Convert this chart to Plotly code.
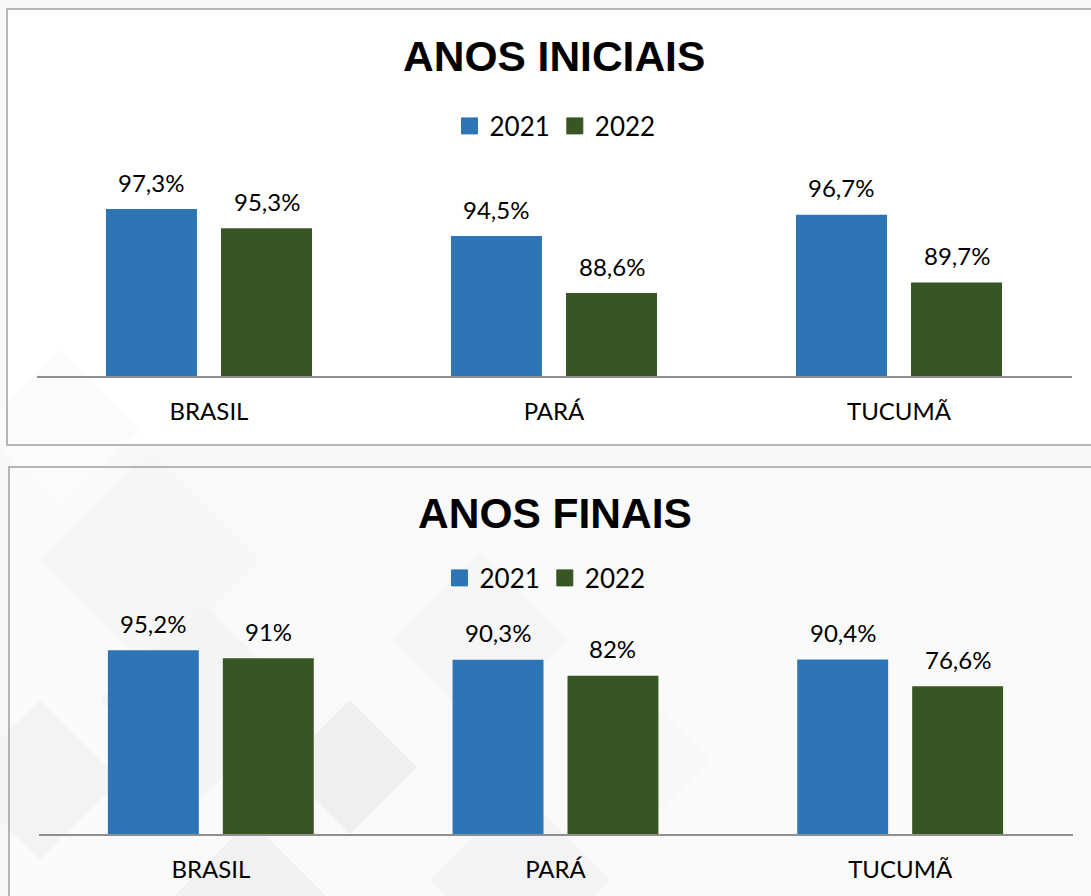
import plotly.graph_objects as go

# ---------------- data ----------------
categories = ["BRASIL", "PARÁ", "TUCUMÃ"]
years = ["2021", "2022"]
iniciais_2021 = [97.3, 94.5, 96.7]
iniciais_2022 = [95.3, 88.6, 89.7]
finais_2021 = [95.2, 90.3, 90.4]
finais_2022 = [91.0, 82.0, 76.6]
title_iniciais = "ANOS INICIAIS"
title_finais = "ANOS FINAIS"
range_iniciais = [80, 100]
range_finais = [0, 100]

colors = ["#2E75B6", "#375623"]
W, H = 1091, 896
BARGAP = 0.333
BARGROUPGAP = 0.209
LABEL_FONT = dict(family="Lato", size=24, color="#000000")


def px(x):
    return x / W


def py(y):
    return 1 - y / H


def fmt(v):
    s = f"{v:.1f}".rstrip("0").rstrip(".")
    return s.replace(".", ",") + "%"


panels = [
    dict(series=[iniciais_2021, iniciais_2022], xa="x", ya="y", legend="legend"),
    dict(series=[finais_2021, finais_2022], xa="x2", ya="y2", legend="legend2"),
]

fig = go.Figure()
annotations = []
for p in panels:
    for j, (yr, vals) in enumerate(zip(years, p["series"])):
        fig.add_trace(go.Bar(
            x=categories, y=vals, name=yr, xaxis=p["xa"], yaxis=p["ya"],
            marker=dict(color=colors[j], line=dict(width=0)),
            showlegend=False, hoverinfo="skip",
        ))
        # legend entry
        fig.add_trace(go.Scatter(
            x=[None], y=[None], mode="markers", name=yr,
            xaxis=p["xa"], yaxis=p["ya"], legend=p["legend"],
            marker=dict(symbol="square", size=18, color=colors[j],
                        line=dict(width=1, color=colors[j])),
            showlegend=True,
        ))
        slot = (1 - BARGAP) / len(years)
        for i, v in enumerate(vals):
            annotations.append(dict(
                x=i + (j - (len(years) - 1) / 2) * slot, y=v,
                xref=p["xa"], yref=p["ya"], text=fmt(v), showarrow=False,
                yanchor="middle", yshift=27, font=LABEL_FONT,
            ))

TITLE_FONT = dict(family="Liberation Sans", size=42.5, color="#000000", weight="bold")
annotations.append(dict(x=px(554), y=py(56), xref="paper", yref="paper",
                        text=title_iniciais, showarrow=False, yanchor="middle",
                        font=TITLE_FONT))
annotations.append(dict(x=px(555), y=py(513), xref="paper", yref="paper",
                        text=title_finais, showarrow=False, yanchor="middle",
                        font=TITLE_FONT))

# ---------------- decorative background ----------------
shapes = []
shapes.append(dict(type="rect", xref="paper", yref="paper", layer="below",
                   x0=px(7), x1=px(1100), y0=py(445), y1=py(9),
                   fillcolor="#ffffff", line=dict(width=0)))
shapes.append(dict(type="rect", xref="paper", yref="paper", layer="below",
                   x0=px(9), x1=px(1100), y0=py(900), y1=py(467),
                   fillcolor="#fafafa", line=dict(width=0)))
diamonds = [
    (60, 430, 80, "#fbfbfb"),
    (150, 560, 110, "#f6f6f6"),
    (200, 700, 100, "#f4f4f4"),
    (350, 767, 67, "#efefef"),
    (480, 640, 90, "#f6f6f6"),
    (40, 780, 80, "#f4f4f4"),
    (250, 900, 80, "#f1f1f1"),
    (520, 880, 90, "#f3f3f3"),
    (640, 760, 70, "#f7f7f7"),
]
for cx, cy, r, c in diamonds:
    path = (f"M {px(cx - r)} {py(cy)} L {px(cx)} {py(cy - r)} "
            f"L {px(cx + r)} {py(cy)} L {px(cx)} {py(cy + r)} Z")
    shapes.append(dict(type="path", xref="paper", yref="paper", layer="below",
                       path=path, fillcolor=c, line=dict(width=0)))
shapes.append(dict(type="rect", xref="paper", yref="paper", layer="below",
                   x0=px(7), x1=px(1100), y0=py(445), y1=py(9),
                   fillcolor="rgba(0,0,0,0)", line=dict(width=1.5, color="#a0a0a0")))
shapes.append(dict(type="rect", xref="paper", yref="paper", layer="below",
                   x0=px(9), x1=px(1100), y0=py(900), y1=py(467),
                   fillcolor="rgba(0,0,0,0)", line=dict(width=1.5, color="#a0a0a0")))

xaxis_common = dict(showline=True, linecolor="#8f8f8f", linewidth=1.5,
                    ticks="", showgrid=False, zeroline=False,
                    tickfont=LABEL_FONT, ticklabelstandoff=13, fixedrange=True)
yaxis_common = dict(visible=False, showgrid=False, zeroline=False, fixedrange=True)

legend_common = dict(orientation="h", xanchor="center", yanchor="middle",
                     font=dict(family="Lato", size=26, color="#000000"),
                     bgcolor="rgba(0,0,0,0)", itemsizing="trace",
                     itemclick=False, itemdoubleclick=False)

fig.update_layout(
    width=W, height=H, margin=dict(l=0, r=0, t=0, b=0),
    paper_bgcolor="#f8f8f8", plot_bgcolor="rgba(0,0,0,0)",
    barmode="group", bargap=BARGAP, bargroupgap=BARGROUPGAP,
    xaxis=dict(domain=[px(36.5), px(1071.5)], anchor="y", **xaxis_common),
    yaxis=dict(domain=[py(376), py(183)], range=range_iniciais, anchor="x", **yaxis_common),
    xaxis2=dict(domain=[px(38.5), px(1072.5)], anchor="y2", **xaxis_common),
    yaxis2=dict(domain=[py(834), py(641)], range=range_finais, anchor="x2", **yaxis_common),
    legend=dict(x=px(555), y=py(126), **legend_common),
    legend2=dict(x=px(545), y=py(578), **legend_common),
    annotations=annotations, shapes=shapes,
    showlegend=True,
)

fig.write_html("out.html", config={"displayModeBar": False},
               post_script="document.body.style.margin='0px';")
